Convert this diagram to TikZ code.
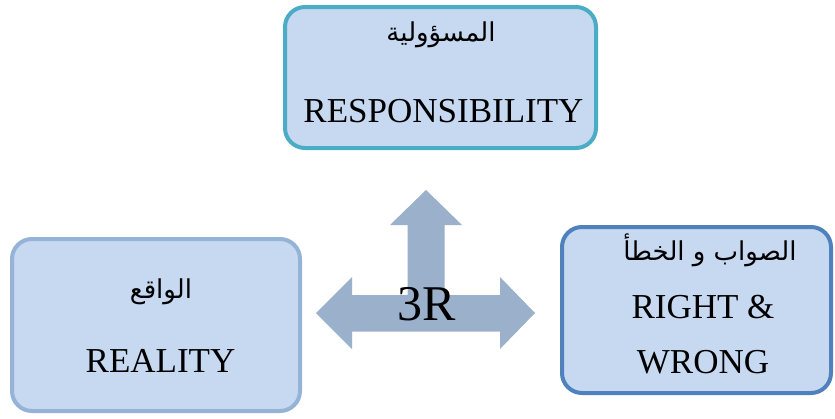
\documentclass[tikz,border=0pt]{standalone}
\usepackage{fontspec}
\setmainfont{Liberation Serif}
\newfontfamily\arabicfont[Script=Arabic]{DejaVu Sans}
\TeXXeTstate=1
\definecolor{boxfill}{RGB}{198,217,241}
\definecolor{topline}{RGB}{75,172,198}
\definecolor{leftline}{RGB}{149,179,215}
\definecolor{rightline}{RGB}{79,129,189}
\definecolor{arrowfill}{RGB}{155,176,203}
\tikzset{
  box/.style={rectangle, rounded corners=20pt, fill=boxfill, line width=4pt, inner sep=0pt},
  lat/.style={font=\fontsize{35}{40}\selectfont, anchor=base, inner sep=0pt},
  arb/.style={font=\arabicfont\fontsize{26}{30}\selectfont, anchor=center, inner sep=0pt},
}
\begin{document}
\begin{tikzpicture}[x=1pt,y=-1pt]
\useasboundingbox (0,0) rectangle (835,418);
\node[box, draw=topline, minimum width=311pt, minimum height=141pt] (top) at (440.5,77.5) {};
\node[box, draw=leftline, minimum width=288pt, minimum height=172pt] (left) at (156,325) {};
\node[box, draw=rightline, minimum width=269pt, minimum height=166pt] (right) at (696.5,310) {};
\node[arb] (topar) at (441,35) {\beginR المسؤولية\endR};
\node[lat] (topen) at (443.5,122) {RESPONSIBILITY};
\node[arb] (leftar) at (161,292) {\beginR الواقع\endR};
\node[lat] (leften) at (160.5,372) {REALITY};
\node[arb] (rightar) at (710,250) {\beginR الصواب و الخطأ\endR};
\node[lat] (righten1) at (703,318) {RIGHT \&};
\node[lat] (righten2) at (703,373) {WRONG};
\fill[arrowfill] (426,190) -- (462,225) -- (444.5,225) -- (444.5,295) -- (500,295) -- (500,277)
  -- (535,313) -- (500,349) -- (500,331.5) -- (352,331.5) -- (352,349) -- (316,313)
  -- (352,277) -- (352,295) -- (407.5,295) -- (407.5,225) -- (390,225) -- cycle;
\node[font=\fontsize{50}{56}\selectfont, anchor=base, inner sep=0pt] (threeR) at (426.5,320) {3R};
\end{tikzpicture}
\end{document}
